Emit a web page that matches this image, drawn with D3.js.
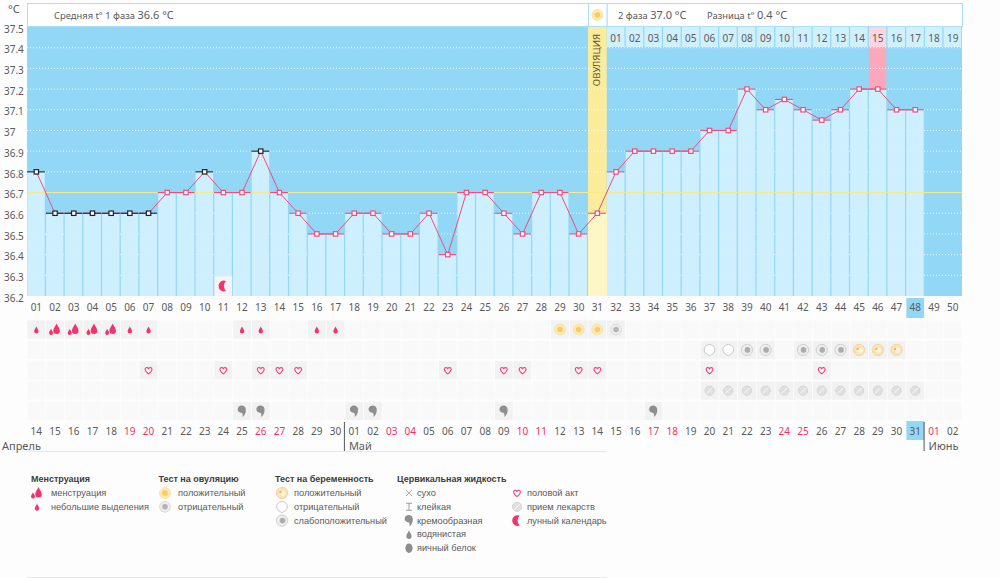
<!DOCTYPE html>
<html>
<head>
<meta charset="utf-8">
<script src="https://cdn.jsdelivr.net/npm/d3@7"></script>
<style>
html, body { margin: 0; padding: 0; background: #fdfdfd; }
svg { display: block; }
text { font-family: "Noto Sans", sans-serif; font-size: 10px; fill: #5a5a5a; }
</style>
</head>
<body>
<div id="chart"></div>
<script>
// temperature per cycle day (day 1 = first entry)
var temps = [36.8, 36.6, 36.6, 36.6, 36.6, 36.6, 36.6, 36.7, 36.7, 36.8, 36.7, 36.7, 36.9, 36.7, 36.6, 36.5, 36.5,
    36.6, 36.6, 36.5, 36.5, 36.6, 36.4, 36.7, 36.7, 36.6, 36.5, 36.7, 36.7, 36.5, 36.6, 36.8, 36.9, 36.9, 36.9, 36.9,
    37.0, 37.0, 37.2, 37.1, 37.15, 37.1, 37.05, 37.1, 37.2, 37.2, 37.1, 37.1];
var days = d3.range(1, 51);
var blackDays = [1, 2, 3, 4, 5, 6, 7, 10, 13];
var yTicks = [37.5, 37.4, 37.3, 37.2, 37.1, 37, 36.9, 36.8, 36.7, 36.6, 36.5, 36.4, 36.3, 36.2];
var gridTicks = [37.4, 37.3, 37.2, 37.1, 37, 36.9, 36.8, 36.7, 36.6, 36.5, 36.4, 36.3];
var phase2Labels = ["01","02","03","04","05","06","07","08","09","10","11","12","13","14","15","16","17","18","19"];
var dates = ["14","15","16","17","18","19","20","21","22","23","24","25","26","27","28","29","30",
    "01","02","03","04","05","06","07","08","09","10","11","12","13","14","15","16","17","18","19","20","21","22","23","24","25","26","27","28","29","30","31",
    "01","02"];
var redDays = [6, 7, 13, 14, 20, 21, 27, 28, 34, 35, 41, 42, 49];
var ovulationDay = 31, peakDay = 46, todayDay = 48;
var meanTemp = 36.7;

var row0small = [1, 6, 7, 12, 13, 16, 17];
var row0big = [2, 3, 4, 5];
var row0ovPos = [29, 30, 31];
var row0ovNeg = [32];
var row1neg = [37, 38];
var row1weak = [39, 40, 42, 43, 44];
var row1pos = [45, 46, 47];
var row2heart = [7, 11, 13, 14, 15, 23, 26, 27, 30, 31, 37, 43];
var row3pill = [37, 38, 39, 40, 41, 42, 43, 44, 45, 46, 47, 48];
var row4cream = [12, 13, 18, 19, 26, 34];
var moonDays = [11];

var legendHeads = ["Менструация", "Тест на овуляцию", "Тест на беременность", "Цервикальная жидкость"];
var legendMens = [["dropBig", "менструация"], ["dropSmall", "небольшие выделения"]];
var legendOv = [["ovPos", "положительный"], ["ovNeg", "отрицательный"]];
var legendPreg = [["pregPos", "положительный"], ["pregNeg", "отрицательный"], ["pregWeak", "слабоположительный"]];
var legendFluid = [["dry", "сухо"], ["sticky", "клейкая"], ["cream", "кремообразная"], ["water", "водянистая"], ["egg", "яичный белок"]];
var legendOther = [["heart", "половой акт"], ["pill", "прием лекарств"], ["moon", "лунный календарь"]];

var width = 1000, height = 578;
var left = 27, right = 962;
var pink = "#ee4d7d", blue = "#92d8f6", light = "#d0f0fe";

var svg = d3.select("#chart").append("svg").attr("width", width).attr("height", height);

var x = d3.scaleBand().domain(days).range([left, right]);
var y = d3.scaleLinear().domain([36.2, 37.5]).range([296, 27]);
var rowY = d3.scaleBand().domain([0, 1, 2, 3, 4]).range([319, 421]);
var bw = x.bandwidth();
var xc = function(d) { return x(d) + bw / 2; };
var barW = bw - 1.2;

// plot background
svg.append("rect").attr("x", left).attr("y", y(37.5)).attr("width", right - left).attr("height", y(36.2) - y(37.5)).attr("fill", blue);

// light cells with day numbers on top of phase 2
svg.append("g").selectAll("rect").data(phase2Labels).join("rect")
    .attr("x", function(d, i) { return x(32 + i) + 0.3; })
    .attr("y", 27).attr("width", barW).attr("height", 20)
    .attr("fill", function(d, i) { return 32 + i == peakDay ? "#fbd5df" : light; });

// ovulation and peak columns
svg.append("rect").attr("x", x(ovulationDay)).attr("y", y(37.5)).attr("width", bw).attr("height", y(36.2) - y(37.5)).attr("fill", "#fbec9c");
svg.append("rect").attr("x", x(peakDay) + 0.3).attr("y", 47).attr("width", barW).attr("height", y(temps[peakDay - 1]) - 47).attr("fill", "#fba8bc");

// dotted grid
svg.append("g").selectAll("line").data(gridTicks).join("line")
    .attr("x1", left).attr("x2", right)
    .attr("y1", function(d) { return y(d); }).attr("y2", function(d) { return y(d); })
    .attr("stroke", "#fff").attr("stroke-width", 1).attr("stroke-dasharray", "1 2")
    .attr("opacity", 0.85);

// bars, slightly see-through so the dots barely show
svg.append("g").selectAll("rect").data(temps).join("rect")
    .attr("x", function(d, i) { return x(i + 1) + 0.3; })
    .attr("y", function(d) { return y(d); })
    .attr("width", function(d, i) { return i + 1 == ovulationDay ? bw : barW; })
    .attr("height", function(d) { return y(36.2) - y(d); })
    .attr("fill", function(d, i) { return i + 1 == ovulationDay ? "#fdf6c8" : light; })
    .attr("fill-opacity", 0.94);

// mean line
svg.append("line").attr("x1", left).attr("x2", right).attr("y1", y(meanTemp)).attr("y2", y(meanTemp))
    .attr("stroke", "#f6ea88").attr("stroke-width", 1);

// header boxes
var hdr = svg.append("g").attr("fill", "#fff").attr("stroke", "#aadff5");
hdr.append("rect").attr("x", left + 0.5).attr("y", 3.5).attr("width", x(ovulationDay) - left).attr("height", 23);
hdr.append("rect").attr("x", x(ovulationDay) + 0.5).attr("y", 3.5).attr("width", bw).attr("height", 23);
hdr.append("rect").attr("x", x(ovulationDay + 1) + 0.5).attr("y", 3.5).attr("width", right - x(ovulationDay + 1)).attr("height", 23);

function headerText(px, parts) {
    var t = svg.append("text").attr("x", px).attr("y", 19);
    parts.forEach(function(p) {
        t.append("tspan").style("font-size", p[1] + "px").text(p[0]);
    });
}
headerText(54, [["Средняя t° 1 фаза  ", 9.4], ["36.6 °C", 11]]);
headerText(618, [["2 фаза  ", 9.4], ["37.0 °C", 11]]);
headerText(707, [["Разница t°  ", 9.4], ["0.4 °C", 11]]);

svg.append("text").attr("x", 8).attr("y", 13).style("font-size", "11px").text("°C");

// y axis
var yAxis = d3.axisLeft(y).tickValues(yTicks).tickSize(0).tickFormat(function(d) { return String(d); });
var yg = svg.append("g").attr("transform", "translate(24,2)").call(yAxis);
yg.select(".domain").remove();
yg.selectAll("text").attr("x", -20).attr("text-anchor", "start").style("font-size", "10px").style("font-family", '"Noto Sans", sans-serif').attr("fill", "#5a5a5a");

// temperature line
var line = d3.line().x(function(d, i) { return xc(i + 1); }).y(function(d) { return y(d); });
svg.append("path").datum(temps).attr("d", line).attr("fill", "none").attr("stroke", pink).attr("stroke-width", 1);

// caps and markers
var isBlack = function(i) { return blackDays.indexOf(i + 1) >= 0; };
svg.append("g").selectAll("line").data(temps).join("line")
    .attr("x1", function(d, i) { return x(i + 1); }).attr("x2", function(d, i) { return x(i + 1) + bw - 0.8; })
    .attr("y1", function(d) { return y(d); }).attr("y2", function(d) { return y(d); })
    .attr("stroke", function(d, i) { return isBlack(i) ? "#222" : pink; }).attr("stroke-width", 1.1);
svg.append("g").selectAll("rect").data(temps).join("rect")
    .attr("x", function(d, i) { return xc(i + 1) - 2.2; })
    .attr("y", function(d) { return y(d) - 2.2; })
    .attr("width", 4.4).attr("height", 4.4).attr("fill", "#fff").attr("stroke-width", 1.2)
    .attr("stroke", function(d, i) { return isBlack(i) ? "#222" : pink; });

// ovulation label, top phase 2 numbers
svg.append("text").attr("transform", "translate(" + (xc(ovulationDay) + 3) + ",60) rotate(-90)")
    .attr("text-anchor", "middle").style("font-size", "9.7px").style("fill", "#5f5730").text("ОВУЛЯЦИЯ");
svg.append("g").selectAll("text").data(phase2Labels).join("text")
    .attr("x", function(d, i) { return xc(32 + i); }).attr("y", 42)
    .attr("text-anchor", "middle").style("font-size", "10px").text(function(d) { return d; });

// today highlight
svg.append("rect").attr("x", x(todayDay) + 0.5).attr("y", 298).attr("width", bw - 1).attr("height", 20).attr("fill", blue);
svg.append("rect").attr("x", x(todayDay) + 0.5).attr("y", 421).attr("width", bw - 1).attr("height", 19).attr("fill", blue);

// cycle day axis
var cycleAxis = d3.axisBottom(x).tickSize(0).tickFormat(function(d) { return d < 10 ? "0" + d : String(d); });
var cg = svg.append("g").attr("transform", "translate(0,299)").call(cycleAxis);
cg.select(".domain").remove();
cg.selectAll("text").style("font-size", "10px").style("font-family", '"Noto Sans", sans-serif').attr("fill", "#5a5a5a").attr("y", 4.5).attr("dy", "0.7em");

// date row
svg.append("g").selectAll("text").data(dates).join("text")
    .attr("x", function(d, i) { return xc(i + 1); }).attr("y", 435)
    .attr("text-anchor", "middle").style("font-size", "10px")
    .style("fill", function(d, i) { return redDays.indexOf(i + 1) >= 0 ? "#f0306b" : "#5a5a5a"; })
    .text(function(d) { return d; });

// month labels
svg.append("line").attr("x1", left).attr("x2", x(ovulationDay + 1)).attr("y1", 451.5).attr("y2", 451.5).attr("stroke", "#e8e8e8");
svg.append("line").attr("x1", left).attr("x2", x(ovulationDay + 1)).attr("y1", 577.5).attr("y2", 577.5).attr("stroke", "#e8e8e8");
[18, 49].forEach(function(d) {
    svg.append("line").attr("x1", x(d) - 0.5).attr("x2", x(d) - 0.5).attr("y1", 422).attr("y2", 451).attr("stroke", "#555");
});
svg.append("text").attr("x", 2).attr("y", 450).style("font-size", "11px").text("Апрель");
svg.append("text").attr("x", x(18) + 4).attr("y", 450).style("font-size", "11px").text("Май");
svg.append("text").attr("x", x(49) + 4).attr("y", 450).style("font-size", "11px").text("Июнь");

// icon shapes
var dropD = "M0,-3.6 C0.8,-1.8 2.2,-0.4 2.2,1.2 A2.2,2.2 0 0 1 -2.2,1.2 C-2.2,-0.4 -0.8,-1.8 0,-3.6Z";
var heartD = "M0,3.6 C-1.8,2.2 -3.4,0.9 -3.4,-1 C-3.4,-2.9 -1,-3.3 0,-1.6 C1,-3.3 3.4,-2.9 3.4,-1 C3.4,0.9 1.8,2.2 0,3.6Z";
function icon(g, type) {
    if (type == "dropSmall") {
        g.append("path").attr("d", dropD).attr("fill", "#f2336c").attr("transform", "translate(0,0.5)");
    } else if (type == "dropBig") {
        g.append("path").attr("d", dropD).attr("fill", "#f2336c").attr("transform", "translate(1.5,-0.5) scale(1.5)");
        g.append("path").attr("d", dropD).attr("fill", "#f2336c").attr("transform", "translate(-4,2.5) scale(0.9)");
    } else if (type == "ovPos" || type == "ovNeg") {
        var p = type == "ovPos";
        g.append("circle").attr("r", 5.4).attr("fill", p ? "#fdeab0" : "#eeeeee").attr("stroke", p ? "#f9e4a4" : "#dadada");
        g.append("circle").attr("r", 2.8).attr("fill", p ? "#f8ca6a" : "#b4b4b4");
    } else if (type == "pregPos") {
        g.append("circle").attr("r", 5.6).attr("fill", "#fde3b6").attr("stroke", "#f8d29c");
        g.append("circle").attr("r", 2.6).attr("cx", 0.8).attr("cy", 0.4).attr("fill", "#fff6e0");
        g.append("circle").attr("r", 1.2).attr("cx", -1.5).attr("cy", -1).attr("fill", "#f4b45a");
    } else if (type == "pregNeg") {
        g.append("path").attr("d", "M0,6 L-2,4.6 A5.4,5.2 0 1 1 2,4.6 Z").attr("fill", "#fff").attr("stroke", "#cacaca");
    } else if (type == "pregWeak") {
        g.append("circle").attr("r", 5.6).attr("fill", "#eeeeee").attr("stroke", "#cfcfcf");
        g.append("circle").attr("r", 2.8).attr("cx", 0.5).attr("fill", "#adadad");
    } else if (type == "heart") {
        g.append("path").attr("d", heartD).attr("fill", "#fff").attr("stroke", "#f2447a").attr("stroke-width", 1.1);
    } else if (type == "pill") {
        g.append("circle").attr("r", 4.6).attr("fill", "#e0e0e0").attr("stroke", "#d6d6d6");
        g.append("line").attr("x1", -2.8).attr("y1", 2.8).attr("x2", 2.8).attr("y2", -2.8).attr("stroke", "#fafafa").attr("stroke-width", 1);
    } else if (type == "cream") {
        g.append("path").attr("d", "M-4.4,-2 A4,4 0 0 1 3.8,-1 C3.8,2 2.6,4.5 0.4,6 C1,3.5 0.6,2.2 -0.6,1.6 C-2.8,2 -4.4,0.2 -4.4,-2Z").attr("fill", "#8e8e8e");
    } else if (type == "moon") {
        g.append("path").attr("d", "M2.6,-5 A5.4,5.4 0 1 0 2.6,5 A8,8 0 0 1 2.6,-5Z").attr("fill", "#f2336c");
    } else if (type == "dry") {
        g.append("path").attr("d", "M-3,-3 L3,3 M-3,3 L3,-3").attr("stroke", "#999").attr("fill", "none").attr("stroke-width", 0.8);
    } else if (type == "sticky") {
        g.append("path").attr("d", "M-3,-3.5 H3 M0,-3.5 V3.5 M-3,3.5 H3").attr("stroke", "#888").attr("fill", "none").attr("stroke-width", 0.8);
    } else if (type == "water") {
        g.append("path").attr("d", dropD).attr("fill", "#8e8e8e").attr("transform", "translate(0,0.5) scale(1.2)");
    } else if (type == "egg") {
        g.append("ellipse").attr("rx", 3.6).attr("ry", 4.8).attr("fill", "#8e8e8e");
    }
}

// icon rows
var rowH = 18, cw = bw - 1;
var marks = [];
function addMarks(list, row, type) { list.forEach(function(d) { marks.push({ day: d, row: row, type: type }); }); }
addMarks(row0small, 0, "dropSmall");
addMarks(row0big, 0, "dropBig");
addMarks(row0ovPos, 0, "ovPos");
addMarks(row0ovNeg, 0, "ovNeg");
addMarks(row1neg, 1, "pregNeg");
addMarks(row1weak, 1, "pregWeak");
addMarks(row1pos, 1, "pregPos");
addMarks(row2heart, 2, "heart");
addMarks(row3pill, 3, "pill");
addMarks(row4cream, 4, "cream");

// empty cells
var cells = [];
rowY.domain().forEach(function(r) { days.forEach(function(d) { cells.push({ day: d, row: r }); }); });
svg.append("g").selectAll("rect").data(cells).join("rect")
    .attr("x", function(d) { return x(d.day) + 0.5; })
    .attr("y", function(d) { return rowY(d.row) + 1.5; })
    .attr("width", cw).attr("height", rowH)
    .attr("fill", "#f9f9f9");

svg.append("g").selectAll("g").data(marks).join("g")
    .attr("transform", function(d) { return "translate(" + xc(d.day) + "," + (rowY(d.row) + 1.5 + rowH / 2) + ")"; })
    .each(function(d) {
        var g = d3.select(this);
        g.append("rect").attr("x", -cw / 2).attr("y", -rowH / 2).attr("width", cw).attr("height", rowH).attr("fill", "#f2f2f2");
        icon(g, d.type);
    });

// moon on the plot
svg.append("g").selectAll("g").data(moonDays).join("g")
    .attr("transform", function(d) { return "translate(" + xc(d) + ",286)"; })
    .each(function() {
        var g = d3.select(this);
        g.append("rect").attr("x", -cw / 2).attr("y", -9.5).attr("width", cw).attr("height", 19.5).attr("fill", "#f4f4f4");
        icon(g, "moon");
    });

// legend
var legendFont = '"Liberation Sans", sans-serif';
function legendBlock(head, list, headX, iconX, textX) {
    if (head) svg.append("text").attr("x", headX).attr("y", 482).style("font-family", legendFont).style("font-size", "9px").style("font-weight", "bold").style("fill", "#3c3c3c").text(head);
    list.forEach(function(item, i) {
        var ly = 493 + i * 13.8;
        var g = svg.append("g").attr("transform", "translate(" + iconX + "," + ly + ")");
        icon(g, item[0]);
        svg.append("text").attr("x", textX).attr("y", ly + 3).style("font-family", legendFont).style("font-size", "9.2px").text(item[1]);
    });
}
legendBlock(legendHeads[0], legendMens, 31, 37, 51);
legendBlock(legendHeads[1], legendOv, 158.5, 165, 178);
legendBlock(legendHeads[2], legendPreg, 275, 282, 294);
legendBlock(legendHeads[3], legendFluid, 397, 409, 417);
legendBlock(null, legendOther, 0, 517, 527);

// ovulation icon in the header
icon(svg.append("g").attr("transform", "translate(" + xc(ovulationDay) + ",15)"), "ovPos");
</script>
</body>
</html>
